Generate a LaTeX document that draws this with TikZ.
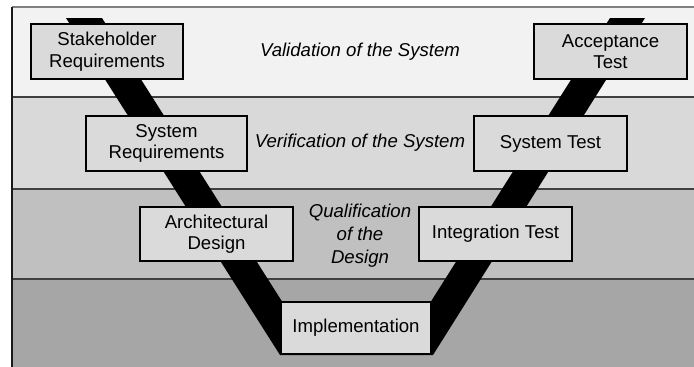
\documentclass[tikz,border=0pt]{standalone}
\usepackage{fontspec}
\setmainfont{Liberation Sans}
\usepackage{tikz}
\usetikzlibrary{positioning}

\definecolor{bandone}{HTML}{F2F2F2}
\definecolor{bandtwo}{HTML}{D9D9D9}
\definecolor{bandthree}{HTML}{C0C0C0}
\definecolor{bandfour}{HTML}{A6A6A6}
\definecolor{boxgray}{HTML}{DADADA}
\definecolor{rulegray}{HTML}{404040}

\begin{document}
\begin{tikzpicture}[x=1pt,y=-1pt,
    phase/.style={draw=black,line width=1.4pt,fill=boxgray,align=center,inner sep=0pt,
      minimum width=153,minimum height=55,font=\fontsize{18.6}{21.5}\selectfont},
    level/.style={align=center,inner sep=0pt,font=\itshape\fontsize{18.6}{23}\selectfont}]
    \useasboundingbox (0,0) rectangle (694,367);

    % bands
    \fill[bandone] (12,7) rectangle (694,97);
    \fill[bandtwo] (12,97) rectangle (694,189);
    \fill[bandthree] (12,189) rectangle (694,279);
    \fill[bandfour] (12,279) rectangle (694,367);
    \draw[gray,line width=1.2pt] (12,7) -- (694,7);
    \draw[rulegray,line width=1.5pt] (12,97) -- (694,97);
    \draw[rulegray,line width=1.5pt] (12,189) -- (694,189);
    \draw[rulegray,line width=1.5pt] (12,279) -- (694,279);
    \draw[black!90,line width=1.5pt] (12,7) -- (12,367);

    % the V
    \fill[black] (66,18) -- (102,18) -- (283,303) -- (430,303) -- (610,18) -- (645,18)
      -- (433,355) -- (280,355) -- cycle;

    % left branch
    \node at (107,51.5) [phase,minimum width=152] (stakeholder) {Stakeholder\\Requirements};
    \node at (166.5,143.5) [phase,minimum width=161] (sysreq) {System\\Requirements};
    \node at (216.5,234) [phase,minimum height=54] (archdesign) {Architectural\\Design};

    % bottom
    \node at (356,328) [phase,minimum width=150,minimum height=52] (implementation) {Implementation};

    % right branch
    \node at (495.5,234) [phase,minimum height=54] (integtest) {Integration Test};
    \node at (550.5,143.5) [phase] (systest) {System Test};
    \node at (610.5,51.5) [phase] (acceptance) {Acceptance\\Test};

    % levels
    \node at (360,52) [level] (validation) {Validation of the System};
    \node at (360,143) [level] (verification) {Verification of the System};
    \node at (360,236) [level] (qualification) {Qualification\\of the\\Design};
\end{tikzpicture}
\end{document}
